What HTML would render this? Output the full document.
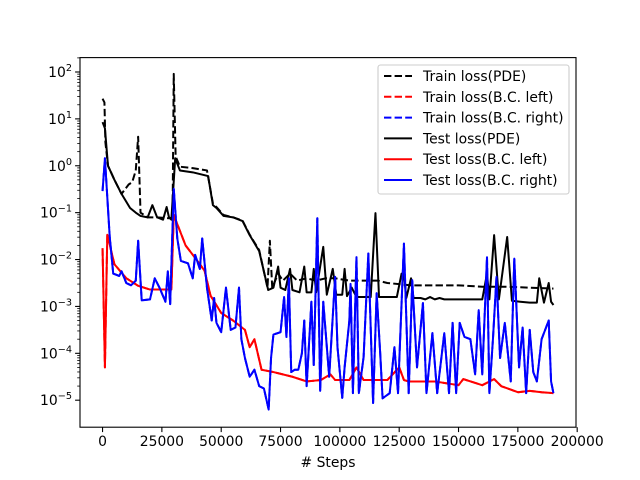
<!DOCTYPE html>
<html><head><meta charset="utf-8"><style>
body{margin:0;background:#fff}
svg{display:block;font-family:"DejaVu Sans","Liberation Sans",sans-serif}
</style></head><body>
<svg id="chart" width="640" height="480" viewBox="0 0 640 480"></svg>
<script>
// ---- data (log10 of loss values) ----
const pdeTestSteps=[0,1000,2300,5000,8000,11600,14000,16000,19000,21000,23000,25500,27000,28000,29000,30600,32600,38000,44500,46500,48000,51000,55000,59000,62000,66000,69800,72000,74000,75000,77000,79000,80000,83000,85000,86000,88000,89000,90000,93000,94500,97000,98500,101000,102000,103000,105000,107000,110000,113000,115000,116500,120000,124000,126000,127000,128000,130000,131000,134000,136000,138000,140000,142000,144000,148000,152000,156000,160000,162000,163000,165000,167000,170500,172500,176000,180000,183000,184000,186000,188000,189000,190000];
const pdeTestLog=[0.93,0.8,0.0,-0.3,-0.6,-0.9,-1.0,-1.07,-1.1,-0.84,-1.1,-1.15,-0.88,-1.1,-1.15,0.16,-0.1,-0.14,-0.22,-0.84,-0.9,-1.07,-1.1,-1.18,-1.48,-1.82,-2.65,-2.6,-2.15,-2.6,-2.65,-2.2,-2.65,-2.7,-2.15,-2.7,-2.7,-2.2,-2.7,-1.73,-2.75,-2.2,-2.75,-2.75,-2.2,-2.78,-2.6,-2.8,-2.8,-2.8,-1.01,-2.8,-2.8,-2.8,-2.3,-2.3,-2.82,-2.4,-2.82,-2.82,-2.85,-2.8,-2.85,-2.82,-2.85,-2.85,-2.85,-2.85,-2.85,-2.3,-2.85,-1.48,-2.85,-1.52,-2.88,-2.9,-2.92,-2.92,-2.4,-2.92,-2.5,-2.9,-2.97];
const pdeTrainSteps=[0,800,1200,2300,5000,8000,11000,12500,14000,15000,16000,19000,23000,28000,29500,30000,30800,32600,38000,44000,46500,48000,51000,55000,59000,62000,66000,69500,70500,71500,74000,76000,79000,82000,86000,90000,94000,98000,104000,110000,116000,120000,130000,140000,150000,160000,170000,180000,190000];
const pdeTrainLog=[1.43,1.35,0.5,0.0,-0.3,-0.6,-0.4,-0.35,-0.1,0.62,-1.0,-1.1,-1.1,-1.12,-1.1,1.96,0.2,-0.02,-0.05,-0.1,-0.8,-0.88,-1.05,-1.1,-1.17,-1.47,-1.8,-2.6,-1.6,-2.6,-2.3,-2.45,-2.3,-2.45,-2.4,-2.45,-2.4,-2.4,-2.45,-2.45,-2.45,-2.5,-2.55,-2.55,-2.55,-2.58,-2.58,-2.6,-2.62];
const leftSteps=[0,1000,2000,5000,10000,15000,20000,29000,30000,35000,40000,43000,45500,50000,55000,60000,62000,64000,67000,72000,80000,86000,92000,96000,98000,104000,107000,110000,120000,125000,127000,129000,140000,150000,152000,160000,165000,168000,175000,180000,185000,190000];
const leftLog=[-1.76,-4.3,-1.47,-2.1,-2.4,-2.56,-2.64,-2.64,-1.05,-1.7,-2.03,-2.24,-2.77,-3.14,-3.3,-3.5,-3.87,-3.7,-4.35,-4.4,-4.5,-4.6,-4.57,-4.45,-4.57,-4.57,-4.3,-4.57,-4.57,-4.3,-4.57,-4.6,-4.6,-4.68,-4.55,-4.68,-4.55,-4.7,-4.83,-4.8,-4.83,-4.85];
const rightSteps=[0,1000,3000,4500,7000,8000,10000,12000,14000,15000,16500,20000,22000,24000,26500,27500,28500,30000,31500,33000,36000,38000,39000,41000,42000,44000,46000,47000,48000,50000,52000,54000,56000,57500,58500,60000,62000,64000,66000,68000,70000,71000,72000,75000,76500,77500,78500,79500,81000,82500,84000,85000,86000,88000,89000,90500,91700,93000,95500,98000,99000,101000,102000,104000,104500,105500,107000,108000,110000,112000,114000,115500,117000,118000,121000,123000,124500,127000,129000,130500,132500,135000,136500,139000,141000,144000,146000,147500,149000,150500,152500,155000,157000,158500,160000,162000,163000,164500,166000,167500,169500,172000,173500,175500,177000,178500,180000,181500,183000,185000,188000,189000,190000];
const rightLog=[-0.54,0.16,-1.5,-2.3,-2.35,-2.25,-2.5,-2.55,-2.45,-1.6,-2.87,-2.85,-2.4,-2.6,-2.9,-2.25,-2.95,-0.49,-1.55,-2.03,-2.08,-2.4,-1.9,-2.2,-1.55,-2.6,-3.3,-2.82,-3.35,-3.55,-2.6,-3.5,-3.45,-2.6,-3.7,-4.1,-4.5,-4.35,-4.7,-4.75,-5.2,-4.1,-3.6,-3.55,-2.8,-3.65,-2.4,-4.4,-4.35,-4.35,-4.0,-3.3,-4.7,-2.9,-4.25,-1.12,-4.8,-2.9,-4.5,-2.37,-3.87,-4.95,-4.3,-3.3,-2.52,-4.85,-1.95,-4.85,-4.08,-1.87,-5.06,-2.72,-4.0,-4.96,-4.85,-3.87,-4.85,-1.66,-4.85,-2.44,-4.3,-2.93,-4.85,-3.57,-4.85,-3.57,-4.85,-3.35,-4.85,-3.35,-3.65,-3.7,-4.45,-3.08,-4.45,-1.95,-4.85,-3.7,-2.37,-4.1,-3.35,-4.6,-1.98,-4.3,-3.45,-4.85,-3.5,-4.4,-4.6,-3.7,-3.3,-4.6,-4.85];
const xTicks=[0,25000,50000,75000,100000,125000,150000,175000,200000];
const yTicks=[-5,-4,-3,-2,-1,0,1,2];

// ---- axes ----
const L=80,R=576,T=57.6,B=427.2;
const xMin=-9500,xMax=199500,yMin=-5.576,yMax=2.307;
const sx=v=>L+(v-xMin)/(xMax-xMin)*(R-L);
const sy=lg=>B-(lg-yMin)/(yMax-yMin)*(B-T);
const NS="http://www.w3.org/2000/svg";
const svg=document.getElementById('chart');
function mk(tag,attrs,parent){const e=document.createElementNS(NS,tag);for(const k in attrs)e.setAttribute(k,attrs[k]);(parent||svg).appendChild(e);return e;}

const clip=mk('clipPath',{id:'clip'});mk('rect',{x:L,y:T,width:R-L,height:B-T},clip);
const plot=mk('g',{'clip-path':'url(#clip)'});



function line(steps,logs,color,dash,name){
  const d=steps.map((s,i)=>(i?'L':'M')+sx(s).toFixed(2)+','+sy(logs[i]).toFixed(2)).join('');
  const p=mk('path',{d:d,fill:'none',stroke:color,'stroke-width':2,'stroke-linejoin':'round'},plot);
  if(dash)p.setAttribute('stroke-dasharray','7.4,3.2');
  
  
}
line(pdeTrainSteps,pdeTrainLog,'#000',true,'train-loss-pde-line');
line(leftSteps,leftLog,'#f00',true,'train-loss-bc-left-line');
line(rightSteps,rightLog,'#00f',true,'train-loss-bc-right-line');
line(pdeTestSteps,pdeTestLog,'#000',false,'test-loss-pde-line');
line(leftSteps,leftLog,'#f00',false,'test-loss-bc-left-line');
line(rightSteps,rightLog,'#00f',false,'test-loss-bc-right-line');

const frame=mk('rect',{x:L,y:T,width:R-L,height:B-T,fill:'none',stroke:'#000','stroke-width':1.1});



xTicks.forEach(t=>{
  const x=sx(t);
  mk('line',{x1:x,x2:x,y1:B,y2:B+4.9,stroke:'#000','stroke-width':1.1});
  const tx=mk('text',{x:x,y:B+19,'font-size':13.9,'text-anchor':'middle'});
  tx.textContent=t;
  
  
});
yTicks.forEach(t=>{
  const y=sy(t);
  mk('line',{x1:L,x2:L-4.9,y1:y,y2:y,stroke:'#000','stroke-width':1.1});
  for(let k=2;k<10;k++){const ym=sy(t+Math.log10(k));if(ym>T&&ym<B)mk('line',{x1:L,x2:L-2.8,y1:ym,y2:ym,stroke:'#000','stroke-width':0.8});}
  const tx=mk('text',{x:L-8,y:y+5,'font-size':13.9,'text-anchor':'end'});
  
  
  tx.textContent='10';
  const sp=mk('tspan',{dy:-6,'font-size':9.7},tx);sp.textContent=String(t).replace('-','\u2212');
});
const xl=mk('text',{x:(L+R)/2,y:467,'font-size':13.9,'text-anchor':'middle'});
xl.textContent='# Steps';



// legend
const lg=mk('g',{});


mk('rect',{x:378,y:65,width:191,height:129,rx:2.5,fill:'#fff','fill-opacity':0.8,stroke:'#ccc','stroke-width':1.1},lg);
const entries=[['Train loss(PDE)','#000',1],['Train loss(B.C. left)','#f00',1],['Train loss(B.C. right)','#00f',1],['Test loss(PDE)','#000',0],['Test loss(B.C. left)','#f00',0],['Test loss(B.C. right)','#00f',0]];
entries.forEach((e,i)=>{
  const y=76+i*20.8;
  const g=mk('g',{},lg);
  
  
  const l=mk('line',{x1:384,x2:412,y1:y,y2:y,stroke:e[1],'stroke-width':2},g);
  if(e[2])l.setAttribute('stroke-dasharray','7.4,3.2');
  const t=mk('text',{x:423,y:y+5,'font-size':13.9},g);t.textContent=e[0];
});
</script>
</body></html>
